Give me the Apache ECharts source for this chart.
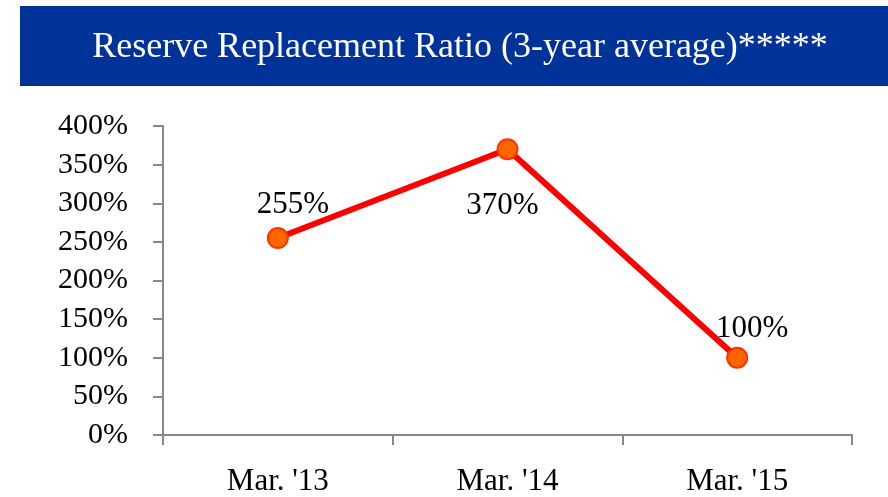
<!DOCTYPE html>
<html lang="en">
<head>
<meta charset="UTF-8">
<title>Reserve Replacement Ratio</title>
<script src="https://cdn.jsdelivr.net/npm/echarts@6/dist/echarts.min.js"></script>
<style>
  html, body { margin: 0; padding: 0; background: #fff; }
  #main { width: 888px; height: 497px; }
</style>
</head>
<body>
<div id="main"></div>
<script type="text/javascript">
// data
var titleText = 'Reserve Replacement Ratio (3-year average)*****';
var periods = ["Mar. '13", "Mar. '14", "Mar. '15"];
var ratio = [255, 370, 100];

// label placement next to each point
var labelOffsets = [[15, -33], [-5, 57], [15, -29]];

var serif = '"Liberation Serif", "DejaVu Serif", serif';

var myChart = echarts.init(document.getElementById('main'));

var points = [];
for (var i = 0; i < ratio.length; i++) {
    points.push({
        value: ratio[i],
        label: { offset: labelOffsets[i] }
    });
}

myChart.setOption({
    animation: false,
    graphic: [{
        type: 'rect',
        shape: { x: 20, y: 6, width: 868, height: 80 },
        style: { fill: '#003399' },
        z: 0
    }],
    title: {
        text: titleText,
        left: 455,
        top: 25,
        textAlign: 'center',
        textStyle: {
            color: '#fff',
            fontFamily: serif,
            fontWeight: 'normal',
            fontSize: 36
        }
    },
    grid: { left: 163, right: 36, top: 126, bottom: 62 },
    xAxis: {
        type: 'category',
        data: periods,
        boundaryGap: true,
        axisLine: { lineStyle: { color: '#888', width: 2 } },
        axisTick: { show: true, length: 10, lineStyle: { color: '#888', width: 2 } },
        axisLabel: {
            color: '#000',
            fontFamily: serif,
            fontSize: 31,
            margin: 31
        }
    },
    yAxis: {
        type: 'value',
        min: 0,
        max: 400,
        interval: 50,
        splitLine: { show: false },
        axisLine: { show: true, lineStyle: { color: '#888', width: 2 } },
        axisTick: { show: true, length: 10, lineStyle: { color: '#888', width: 2 } },
        axisLabel: {
            color: '#000',
            fontFamily: serif,
            fontSize: 30,
            margin: 35,
            formatter: '{value}%'
        }
    },
    series: [{
        type: 'line',
        data: points,
        symbol: 'circle',
        symbolSize: 20,
        lineStyle: { color: '#ff0000', width: 6 },
        itemStyle: { color: '#ff6600', borderColor: '#ff3300', borderWidth: 2 },
        label: {
            show: true,
            position: 'inside',
            formatter: '{c}%',
            color: '#000',
            fontFamily: serif,
            fontSize: 31
        },
        z: 3
    }]
});
</script>
</body>
</html>
